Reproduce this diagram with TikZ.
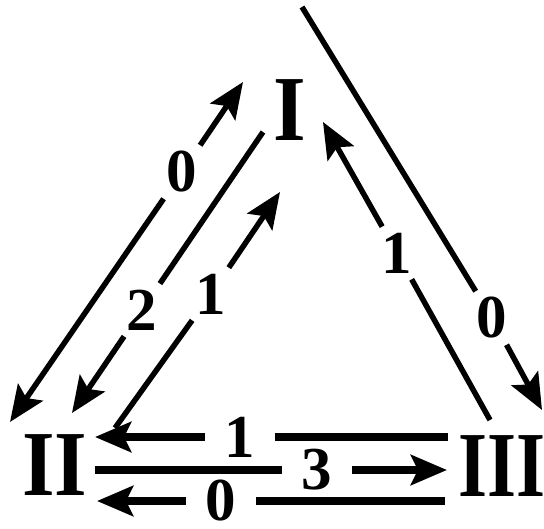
\documentclass[tikz,border=0pt]{standalone}
\usepackage{fontspec}
\setmainfont{Liberation Serif}
\usetikzlibrary{arrows.meta}

\tikzset{
	state/.style={font=\fontsize{93}{93}\selectfont\bfseries, inner sep=0pt, xscale=0.9},
	num/.style={font=\fontsize{61}{61}\selectfont\bfseries, inner xsep=20pt, inner ysep=6pt},
	diag/.style={line width=5.5pt},
	flat/.style={line width=7.5pt},
	tip/.style={-{Stealth[length=36pt,width=30pt,inset=7pt]}},
}

\begin{document}
\begin{tikzpicture}[x=1pt, y=-1pt]
	\useasboundingbox (0,0) rectangle (544,529);
	% States
	\node[state] (s1) at (289.5,110) {I};
	\node[state] (s2) at (55,465)    {II};
	\node[state, xscale=0.89] (s3) at (502,466) {III};

	% Transition labels
	\node[num] (l0a) at (182,172) {0};
	\node[num] (l2)  at (142,310) {2};
	\node[num] (l1a) at (211,294) {1};
	\node[num] (l1b) at (397,253) {1};
	\node[num] (l0b) at (492,318) {0};
	\node[num] (l1c) at (240,437) {1};
	\node[num] (l3)  at (317,470) {3};
	\node[num, inner ysep=1pt] (l0c) at (221,501) {0};

	% Free ends
	\coordinate (a1) at (10,422);  \coordinate (a2) at (243,82);
	\coordinate (b1) at (263,132); \coordinate (b2) at (72,413);
	\coordinate (c1) at (115,428); \coordinate (c2) at (280,192);
	\coordinate (d1) at (323,122); \coordinate (d2) at (490,420);
	\coordinate (e1) at (302,7);   \coordinate (e2) at (542,410);
	\coordinate (f1) at (95,437);  \coordinate (f2) at (448,437);
	\coordinate (g1) at (95,470);  \coordinate (g2) at (447,470);
	\coordinate (h1) at (97,501);  \coordinate (h2) at (445,501);

	% I -- II
	\draw[diag, tip] (l0a) -- (a1);
	\draw[diag, tip] (l0a) -- (a2);
	\draw[diag] (b1) -- (l2);
	\draw[diag, tip] (l2) -- (b2);
	\draw[diag] (c1) -- (l1a);
	\draw[diag, tip] (l1a) -- (c2);

	% I -- III
	\draw[diag, tip] (l1b) -- (d1);
	\draw[diag] (l1b) -- (d2);
	\draw[diag] (e1) -- (l0b);
	\draw[diag, tip] (l0b) -- (e2);

	% II -- III
	\draw[flat, tip] (l1c) -- (f1);
	\draw[flat] (l1c) -- (f2);
	\draw[flat] (g1) -- (l3);
	\draw[flat, tip] (l3) -- (g2);
	\draw[flat, tip] (l0c) -- (h1);
	\draw[flat] (l0c) -- (h2);
\end{tikzpicture}
\end{document}
